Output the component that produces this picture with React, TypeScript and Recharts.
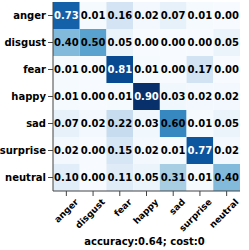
import { BarChart, Bar, XAxis, YAxis } from "recharts";

const classes = ["anger", "disgust", "fear", "happy", "sad", "surprise", "neutral"];

// rows = true label, columns = predicted label
const matrix = [
  [0.73, 0.01, 0.16, 0.02, 0.07, 0.01, 0.0],
  [0.4, 0.5, 0.05, 0.0, 0.0, 0.0, 0.05],
  [0.01, 0.0, 0.81, 0.01, 0.0, 0.17, 0.0],
  [0.01, 0.0, 0.01, 0.9, 0.03, 0.02, 0.02],
  [0.07, 0.02, 0.22, 0.03, 0.6, 0.01, 0.05],
  [0.02, 0.0, 0.15, 0.02, 0.01, 0.77, 0.02],
  [0.1, 0.0, 0.11, 0.05, 0.31, 0.01, 0.4],
];

const title = "accuracy:0.64; cost:0";

const colTicks = classes.map((_, j) => j + 0.5);

// each cell is one unit wide, stacked across the row
const rows = classes.map((name) => {
  const row: Record<string, string | number> = { name };
  classes.forEach((_, j) => (row[`p${j}`] = 1));
  return row;
});

// matplotlib "Blues"
const blues = ["#f7fbff", "#deebf7", "#c6dbef", "#9ecae1", "#6baed6", "#4292c6", "#2171b5", "#08519c", "#08306b"];
const vmax = Math.max(...matrix.flat());

function hex(c: string) {
  return [1, 3, 5].map((k) => parseInt(c.slice(k, k + 2), 16));
}

function colorFor(v: number) {
  const t = Math.min(1, Math.max(0, v / vmax)) * (blues.length - 1);
  const i = Math.min(blues.length - 2, Math.floor(t));
  const f = t - i;
  const a = hex(blues[i]);
  const b = hex(blues[i + 1]);
  const m = a.map((x, k) => Math.round(x + (b[k] - x) * f));
  return `rgb(${m[0]},${m[1]},${m[2]})`;
}

const font = '"DejaVu Sans", sans-serif';
const axisColor = "#444";

function cellShape(j: number) {
  return (props: any) => {
    const { x, y, width, height, payload } = props;
    const i = classes.indexOf(payload.name);
    const v = matrix[i][j];
    return (
      <g>
        <rect x={x} y={y} width={width} height={height} fill={colorFor(v)} />
        <text
          x={x + width / 2}
          y={y + height / 2}
          textAnchor="middle"
          dominantBaseline="central"
          fontSize={10}
          fontWeight="bold"
          fontFamily={font}
          fill={v > 0.7 ? "#fff" : "#000"}
        >
          {v.toFixed(2)}
        </text>
      </g>
    );
  };
}

export default function App() {
  return (
    <div style={{ position: "absolute", left: 0, top: 0, background: "#fff" }}>
      <BarChart
        layout="vertical"
        width={249}
        height={250}
        data={rows}
        margin={{ top: 2, right: 9, left: 0, bottom: 0 }}
        barCategoryGap={0}
        barGap={0}
        style={{ fontFamily: font }}
      >
        <XAxis
          type="number"
          domain={[0, classes.length]}
          ticks={colTicks}
          interval={0}
          height={59}
          tickFormatter={(v: number) => classes[Math.floor(v)]}
          tick={{ angle: -45, textAnchor: "end", fontSize: 9, fontWeight: "bold", fill: "#000", fontFamily: font, dx: 8 }}
          tickLine={{ stroke: axisColor }}
          axisLine={{ stroke: axisColor }}
          tickSize={5}
          label={{
            value: title,
            position: "insideBottom",
            offset: 5,
            dx: -2,
            fontSize: 10,
            fontWeight: "bold",
            fill: "#000",
            fontFamily: font,
          }}
        />
        <XAxis
          xAxisId="top"
          orientation="top"
          type="number"
          domain={[0, classes.length]}
          height={0}
          tick={false}
          tickLine={false}
          axisLine={{ stroke: axisColor }}
        />
        <YAxis
          type="category"
          dataKey="name"
          width={53}
          interval={0}
          tickSize={5}
          tick={{ fontSize: 10, fontWeight: "bold", fill: "#000", fontFamily: font }}
          tickLine={{ stroke: axisColor }}
          axisLine={{ stroke: axisColor }}
        />
        <YAxis
          yAxisId="right"
          orientation="right"
          type="category"
          dataKey="name"
          width={0}
          tick={false}
          tickLine={false}
          axisLine={{ stroke: axisColor }}
        />
        {classes.map((c, j) => (
          <Bar key={c} dataKey={`p${j}`} stackId="m" isAnimationActive={false} shape={cellShape(j)} />
        ))}
      </BarChart>
    </div>
  );
}
